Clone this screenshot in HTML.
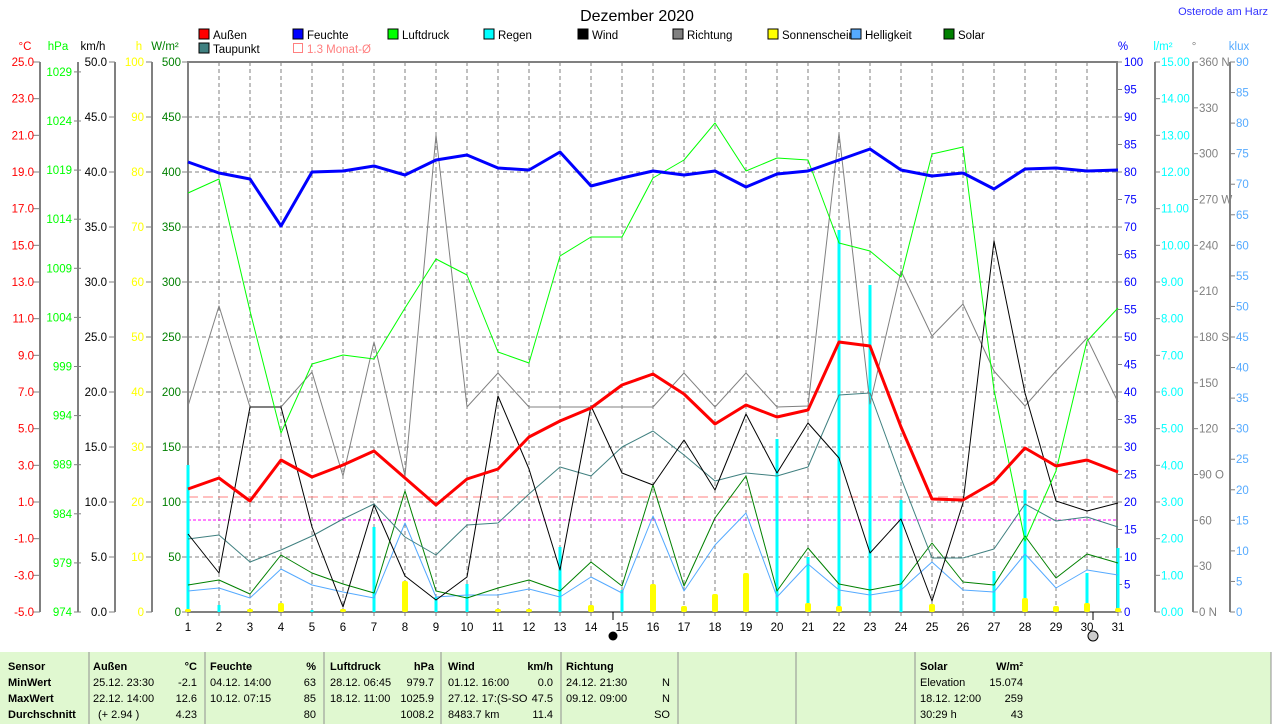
<!DOCTYPE html>
<html><head><meta charset="utf-8">
<style>
html,body{margin:0;padding:0;background:#fff;width:1274px;height:724px;overflow:hidden}
svg{display:block;font-family:"Liberation Sans",sans-serif}
</style></head><body>
<svg id="s" width="1274" height="724" xmlns="http://www.w3.org/2000/svg"></svg>
<script>
const S=document.getElementById('s');let h='';
const X=d=>188+(d-1)*31, T=62,B=612;
function t(x,y,s,c,sz,anc,extra){h+=`<text x="${x}" y="${y}" fill="${c}" font-size="${sz||12}" text-anchor="${anc||'start'}" ${extra||''}>${s}</text>`;}
function l(x1,y1,x2,y2,c,w,extra){h+=`<line x1="${x1}" y1="${y1}" x2="${x2}" y2="${y2}" stroke="${c}" stroke-width="${w||1}" ${extra||''}/>`;}
t(637,21,'Dezember 2020','#000',16,'middle');
t(1268,15,'Osterode am Harz','#3333ff',11,'end');
const lg=[[199,38,'#ff0000','Außen'],[293,38,'#0000ff','Feuchte'],[388,38,'#00ff00','Luftdruck'],[484,38,'#00ffff','Regen'],[578,38,'#000000','Wind'],[673,38,'#808080','Richtung'],[768,38,'#ffff00','Sonnenschein'],[851,38,'#55aaff','Helligkeit'],[944,38,'#008000','Solar'],[199,52,'#408080','Taupunkt']];
lg.forEach(a=>{h+=`<rect x="${a[0]}" y="${a[1]-9}" width="10" height="10" fill="${a[2]}" stroke="#000" stroke-width="1"/>`;t(a[0]+14,a[1]+1,a[3],'#000',11.5);});
h+=`<rect x="293.5" y="43.5" width="9" height="9" fill="none" stroke="#ff8080"/>`;t(307,53,'1.3 Monat-Ø','#ff8080',11.5);
for(let d=2;d<=30;d++)l(X(d),T,X(d),B,'#808080',1,'stroke-dasharray="4,3"');
for(let k=1;k<10;k++)l(188,T+k*55,1117,T+k*55,'#808080',1,'stroke-dasharray="4,3"');
t(25,50,'°C','#ff0000',11.5,'middle');t(58,50,'hPa','#00ff00',11.5,'middle');t(93,50,'km/h','#000',11.5,'middle');t(139,50,'h','#ffff00',11.5,'middle');t(165,50,'W/m²','#008000',11.5,'middle');
t(1123,50,'%','#0000ff',11.5,'middle');t(1163,50,'l/m²','#00ffff',11.5,'middle');t(1194,50,'°','#808080',11.5,'middle');t(1239,50,'klux','#55aaff',11.5,'middle');
[40,78,115,152].forEach(x=>l(x,T,x,B,'#808080',2));
[1155,1193,1230].forEach(x=>l(x,T,x,B,'#808080',2));
const F=11.5;
for(let i=0;i<=15;i++){let y=T+i*550/15;l(33,y,40,y,'#808080');t(34,y+4,(25-2*i).toFixed(1),'#ff0000',F,'end');}
for(let p=974;p<=1029;p+=5){let y=B-(p-974)*9.82;l(74,y,81,y,'#808080');t(72,y+4,p,'#00ff00',F,'end');}
for(let i=0;i<=10;i++){let y=T+i*55;l(109,y,115,y,'#808080');t(107,y+4,(50-5*i).toFixed(1),'#000',F,'end');
 l(146,y,152,y,'#808080');t(144,y+4,100-10*i,'#ffff00',F,'end');
 l(182,y,188,y,'#808080');t(181,y+4,500-50*i,'#008000',F,'end');}
for(let i=0;i<=20;i++){let y=T+i*27.5;l(1117,y,1122,y,'#808080');t(1124,y+4,100-5*i,'#0000ff',F);}
for(let i=0;i<=15;i++){let y=T+i*550/15;l(1155,y,1160,y,'#808080');t(1161,y+4,(15-i).toFixed(2),'#00ffff',F);}
const dl=['360 N','330','300','270 W','240','210','180 S','150','120','90 O','60','30','0 N'];
for(let i=0;i<=12;i++){let y=T+i*550/12;l(1193,y,1198,y,'#808080');t(1199,y+4,dl[i],'#808080',F);}
for(let i=0;i<=18;i++){let y=T+i*550/18;l(1230,y,1235,y,'#808080');t(1236,y+4,90-5*i,'#55aaff',F);}
h+=`<rect x="188" y="62" width="929" height="550" fill="none" stroke="#808080" stroke-width="2"/>`;
for(let d=1;d<=31;d++){l(X(d),B,X(d),B+4,'#808080');t(X(d),631,d,'#000',F,'middle');}
l(188,497,1117,497,'#ff8080',1,'stroke-dasharray="10,5"');
l(188,520,1117,520,'#ff00ff',1,'stroke-dasharray="3,2"');
const rain={1:465,2:605,5:610,6:609,7:527,9:597,10:584,13:547,15:590,17:609,20:439,21:557,22:230,23:285,24:500,27:571,28:490,30:573,31:548};
for(const d in rain)h+=`<rect x="${X(+d)-1.5}" y="${rain[d]}" width="3" height="${B-rain[d]}" fill="#00ffff"/>`;
const sun={1:609,3:609,4:603,6:609,8:581,11:609,12:609,14:605,16:584,17:606,18:594,19:573,21:603,22:606,25:604,28:598,29:606,30:603,31:608};
for(const d in sun)h+=`<rect x="${X(+d)-3}" y="${sun[d]}" width="6" height="${B-sun[d]}" rx="2" fill="#ffff00"/>`;
function P(a,c,w){h+=`<polyline fill="none" stroke="${c}" stroke-width="${w}" stroke-linejoin="round" points="${a.map((y,i)=>X(i+1)+','+y).join(' ')}"/>`;}
P([591,588,598,569,585,592,598,523,597,595,595,589,597,577,593,516,591,545,513,597,564,590,595,590,562,590,592,554,588,570,575],'#55aaff',1);
P([585,580,594,555,573,584,593,491,591,598,588,580,591,562,586,485,586,518,476,591,548,584,590,584,543,582,585,536,578,554,563],'#008000',1);
P([539,535,562,550,536,519,504,537,555,525,523,494,467,476,447,431,455,481,473,476,467,395,393,478,558,558,549,504,521,517,527],'#408080',1);
P([406,306,407,407,372,476,342,476,135,407,373,407,407,407,407,407,373,407,373,407,406,133,404,271,336,304,371,406,371,338,402],'#808080',1);
P([534,573,407,407,527,607,505,576,600,577,396,469,570,406,473,485,440,490,414,473,423,458,553,519,601,503,241,393,501,511,503],'#000000',1);
P([193,179,311,433,364,355,359,308,259,275,352,363,256,237,237,178,160,123,171,158,160,243,251,277,154,147,390,541,471,341,308],'#00ff00',1);
P([489,478,501,460,477,465,451,478,505,479,469,437,421,408,385,374,394,424,405,417,410,342,346,427,499,500,482,448,466,460,472],'#ff0000',3);
P([162,173,179,226,172,171,166,175,160,155,168,170,152,186,178,171,175,171,187,174,171,160,149,170,176,173,189,169,168,171,170],'#0000ff',3);
l(613,612,613,620,'#000');h+=`<circle cx="613" cy="636" r="4.5" fill="#000"/>`;
l(1093,612,1093,620,'#000');h+=`<circle cx="1093" cy="636" r="5" fill="#ccc" stroke="#000"/>`;
h+=`<rect x="0" y="652" width="1271" height="72" fill="#e0f8d0"/>`;
[89,205,324,441,561,678,796,915].forEach(x=>l(x,652,x,724,'#909090'));
l(1271,652,1271,724,'#909090');
const R=[670,686,702,718];
function tb(x,y,s,anc,b){t(x,y,s,'#000',11,anc||'start',b?'font-weight="bold"':'');}
['Sensor','MinWert','MaxWert','Durchschnitt'].forEach((s,i)=>tb(8,R[i],s,'start',1));
tb(93,R[0],'Außen','start',1);tb(197,R[0],'°C','end',1);
tb(93,R[1],'25.12.  23:30');tb(197,R[1],'-2.1','end');
tb(93,R[2],'22.12.  14:00');tb(197,R[2],'12.6','end');
tb(98,R[3],'(+ 2.94 )');tb(197,R[3],'4.23','end');
tb(210,R[0],'Feuchte','start',1);tb(316,R[0],'%','end',1);
tb(210,R[1],'04.12.  14:00');tb(316,R[1],'63','end');
tb(210,R[2],'10.12.  07:15');tb(316,R[2],'85','end');tb(316,R[3],'80','end');
tb(330,R[0],'Luftdruck','start',1);tb(434,R[0],'hPa','end',1);
tb(330,R[1],'28.12.  06:45');tb(434,R[1],'979.7','end');
tb(330,R[2],'18.12.  11:00');tb(434,R[2],'1025.9','end');tb(434,R[3],'1008.2','end');
tb(448,R[0],'Wind','start',1);tb(553,R[0],'km/h','end',1);
tb(448,R[1],'01.12.  16:00');tb(553,R[1],'0.0','end');
tb(448,R[2],'27.12.  17:(S-SO');tb(553,R[2],'47.5','end');
tb(448,R[3],'8483.7 km');tb(553,R[3],'11.4','end');
tb(566,R[0],'Richtung','start',1);
tb(566,R[1],'24.12.  21:30');tb(670,R[1],'N','end');
tb(566,R[2],'09.12.  09:00');tb(670,R[2],'N','end');tb(670,R[3],'SO','end');
tb(920,R[0],'Solar','start',1);tb(1023,R[0],'W/m²','end',1);
tb(920,R[1],'Elevation');tb(1023,R[1],'15.074','end');
tb(920,R[2],'18.12.  12:00');tb(1023,R[2],'259','end');
tb(920,R[3],'30:29 h');tb(1023,R[3],'43','end');
S.innerHTML=h;
</script>
</body></html>
